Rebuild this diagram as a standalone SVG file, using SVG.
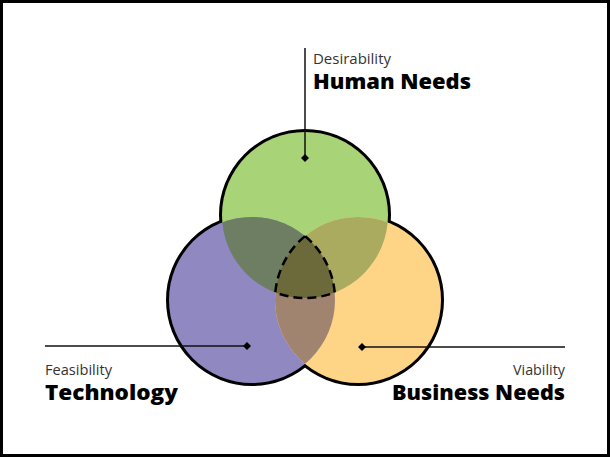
<svg xmlns="http://www.w3.org/2000/svg" width="610" height="457" viewBox="0 0 610 457">
<style>
.sub{font-family:"Open Sans",Lato,"DejaVu Sans",sans-serif;font-weight:400;font-size:14px;fill:#333}
.ttl{font-family:"Open Sans",Lato,"DejaVu Sans",sans-serif;font-weight:800;font-size:20.5px;fill:#000}
.lead{stroke:#111;stroke-width:1.5;fill:none}
</style>
<defs>
<marker id="dia" viewBox="-5 -5 10 10" markerWidth="8" markerHeight="8" refX="0" refY="0" markerUnits="userSpaceOnUse">
<path d="M0,-5 L5,0 L0,5 L-5,0 Z" fill="#000"/>
</marker>
<clipPath id="cG"><circle cx="305" cy="215" r="83"/></clipPath>
<clipPath id="cP"><circle cx="252" cy="300" r="83"/></clipPath>
</defs>
<rect x="1.5" y="1.5" width="607" height="454" fill="#fff" stroke="#000" stroke-width="3"/>
<g id="outline" stroke="#000" stroke-width="6" fill="none">
<circle cx="305" cy="215" r="83"/>
<circle cx="252" cy="300" r="83"/>
<circle cx="358" cy="300" r="83"/>
</g>
<g id="desirability">
<circle cx="305" cy="215" r="83" fill="#a8d477"/>
</g>
<g id="feasibility">
<circle cx="252" cy="300" r="83" fill="#9088c0"/>
</g>
<g id="viability">
<circle cx="358" cy="300" r="83" fill="#fed487"/>
</g>
<g id="overlaps">
<circle cx="252" cy="300" r="83" fill="#6e7e62" clip-path="url(#cG)"/>
<circle cx="358" cy="300" r="83" fill="#aaab5e" clip-path="url(#cG)"/>
<circle cx="358" cy="300" r="83" fill="#a1846f" clip-path="url(#cP)"/>
<g clip-path="url(#cG)"><circle cx="358" cy="300" r="83" fill="#6c6a3b" clip-path="url(#cP)"/></g>
<path d="M305,236.1 A83,83 0 0 0 275.3,292.5 A83,83 0 0 0 334.7,292.5 A83,83 0 0 0 305,236.1 Z" fill="none" stroke="#000" stroke-width="2.5" stroke-dasharray="9,5"/>
</g>
<g id="connectors">
<line class="lead" x1="305" y1="48" x2="305" y2="158" marker-end="url(#dia)"/>
<line class="lead" x1="45" y1="346" x2="247" y2="346" marker-end="url(#dia)"/>
<line class="lead" stroke="#333" x1="565" y1="347" x2="362" y2="347" marker-end="url(#dia)"/>
</g>
<g id="label-desirability">
<text class="sub" x="313" y="64" textLength="78" lengthAdjust="spacingAndGlyphs">Desirability</text>
<text class="ttl" x="313" y="89" textLength="158" lengthAdjust="spacingAndGlyphs">Human Needs</text>
</g>
<g id="label-feasibility">
<text class="sub" x="45" y="375" textLength="67" lengthAdjust="spacingAndGlyphs">Feasibility</text>
<text class="ttl" x="45" y="400" textLength="133" lengthAdjust="spacingAndGlyphs">Technology</text>
</g>
<g id="label-viability">
<text class="sub" x="565" y="375" text-anchor="end" textLength="52" lengthAdjust="spacingAndGlyphs">Viability</text>
<text class="ttl" x="565" y="400" text-anchor="end" textLength="173" lengthAdjust="spacingAndGlyphs">Business Needs</text>
</g>
</svg>
